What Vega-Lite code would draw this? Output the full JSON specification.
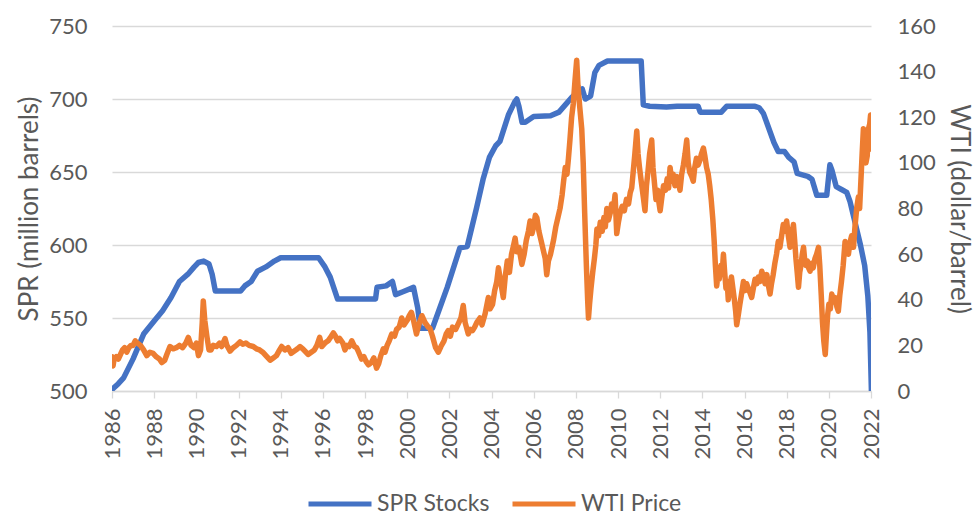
{
  "$schema": "https://vega.github.io/schema/vega-lite/v6.json",
  "width": 759,
  "height": 365,
  "autosize": {"type": "none"},
  "padding": {"left": 112, "top": 26, "right": 105, "bottom": 124},
  "background": "white",
  "config": {
    "view": {"stroke": null},
    "font": "Lato",
    "axis": {"labelFont": "Lato", "titleFont": "Lato", "labelFontSize": 22, "titleFontSize": 26, "labelColor": "#595959", "titleColor": "#595959", "titleFontWeight": "normal"},
    "legend": {"labelFont": "Lato", "labelFontSize": 23, "labelColor": "#595959"}
  },
  "datasets": {
    "spr": [
      {"year": 1986.0, "value": 501}, {"year": 1986.3, "value": 505}, {"year": 1986.55, "value": 509},
      {"year": 1987.0, "value": 522}, {"year": 1987.5, "value": 539}, {"year": 1988.0, "value": 548},
      {"year": 1988.4, "value": 555}, {"year": 1988.8, "value": 564}, {"year": 1989.2, "value": 575},
      {"year": 1989.6, "value": 580}, {"year": 1989.9, "value": 585}, {"year": 1990.1, "value": 588},
      {"year": 1990.35, "value": 589}, {"year": 1990.6, "value": 587}, {"year": 1990.75, "value": 580},
      {"year": 1990.9, "value": 568.5}, {"year": 1991.5, "value": 568.5}, {"year": 1992.1, "value": 568.5},
      {"year": 1992.3, "value": 572}, {"year": 1992.6, "value": 575}, {"year": 1992.9, "value": 582},
      {"year": 1993.3, "value": 585}, {"year": 1993.7, "value": 589}, {"year": 1994.0, "value": 591.3},
      {"year": 1995.8, "value": 591.3}, {"year": 1996.1, "value": 585}, {"year": 1996.35, "value": 578},
      {"year": 1996.7, "value": 563}, {"year": 1998.5, "value": 563}, {"year": 1998.57, "value": 571},
      {"year": 1999.0, "value": 572}, {"year": 1999.3, "value": 575}, {"year": 1999.45, "value": 566},
      {"year": 1999.8, "value": 568}, {"year": 2000.3, "value": 571}, {"year": 2000.5, "value": 557},
      {"year": 2000.62, "value": 543}, {"year": 2001.2, "value": 543}, {"year": 2001.5, "value": 555},
      {"year": 2001.9, "value": 571}, {"year": 2002.5, "value": 598}, {"year": 2002.85, "value": 599},
      {"year": 2003.3, "value": 626}, {"year": 2003.6, "value": 645}, {"year": 2003.9, "value": 660},
      {"year": 2004.2, "value": 668}, {"year": 2004.4, "value": 671}, {"year": 2004.8, "value": 689},
      {"year": 2005.1, "value": 698}, {"year": 2005.2, "value": 700}, {"year": 2005.3, "value": 695},
      {"year": 2005.45, "value": 684}, {"year": 2005.6, "value": 684}, {"year": 2006.0, "value": 688},
      {"year": 2006.8, "value": 688.5}, {"year": 2007.2, "value": 691}, {"year": 2007.5, "value": 696},
      {"year": 2007.8, "value": 701}, {"year": 2008.1, "value": 705}, {"year": 2008.3, "value": 707},
      {"year": 2008.45, "value": 700}, {"year": 2008.7, "value": 702}, {"year": 2008.9, "value": 718},
      {"year": 2009.1, "value": 723}, {"year": 2009.5, "value": 726}, {"year": 2011.1, "value": 726},
      {"year": 2011.2, "value": 696}, {"year": 2011.5, "value": 695}, {"year": 2012.3, "value": 694.5},
      {"year": 2012.8, "value": 695}, {"year": 2013.8, "value": 695}, {"year": 2013.9, "value": 691},
      {"year": 2014.9, "value": 691}, {"year": 2015.15, "value": 695}, {"year": 2016.5, "value": 695},
      {"year": 2016.7, "value": 694}, {"year": 2016.9, "value": 690}, {"year": 2017.1, "value": 682},
      {"year": 2017.4, "value": 670}, {"year": 2017.6, "value": 664}, {"year": 2017.9, "value": 664},
      {"year": 2018.1, "value": 660}, {"year": 2018.35, "value": 657}, {"year": 2018.5, "value": 649},
      {"year": 2019.0, "value": 647}, {"year": 2019.2, "value": 645}, {"year": 2019.43, "value": 634},
      {"year": 2019.9, "value": 634}, {"year": 2020.05, "value": 655}, {"year": 2020.15, "value": 651},
      {"year": 2020.35, "value": 640}, {"year": 2020.6, "value": 638}, {"year": 2020.85, "value": 636},
      {"year": 2021.0, "value": 630}, {"year": 2021.2, "value": 618}, {"year": 2021.5, "value": 600},
      {"year": 2021.7, "value": 586}, {"year": 2021.85, "value": 565}, {"year": 2021.95, "value": 540},
      {"year": 2022.02, "value": 500}
    ],
    "wti": [
      {"year": 1986.0, "value": 15}, {"year": 1986.05, "value": 11}, {"year": 1986.1, "value": 14},
      {"year": 1986.2, "value": 15}, {"year": 1986.3, "value": 14}, {"year": 1986.4, "value": 16},
      {"year": 1986.5, "value": 18}, {"year": 1986.6, "value": 19}, {"year": 1986.7, "value": 17},
      {"year": 1986.8, "value": 19}, {"year": 1986.9, "value": 20}, {"year": 1987.0, "value": 20},
      {"year": 1987.1, "value": 22}, {"year": 1987.2, "value": 21}, {"year": 1987.35, "value": 20},
      {"year": 1987.5, "value": 18}, {"year": 1987.65, "value": 15.5}, {"year": 1987.8, "value": 17},
      {"year": 1987.95, "value": 16.5}, {"year": 1988.1, "value": 15}, {"year": 1988.25, "value": 14},
      {"year": 1988.36, "value": 12.5}, {"year": 1988.5, "value": 13.5}, {"year": 1988.6, "value": 16},
      {"year": 1988.75, "value": 19.5}, {"year": 1988.9, "value": 18.5}, {"year": 1989.05, "value": 19},
      {"year": 1989.2, "value": 20}, {"year": 1989.35, "value": 19}, {"year": 1989.5, "value": 21},
      {"year": 1989.62, "value": 23.5}, {"year": 1989.75, "value": 20}, {"year": 1989.9, "value": 19},
      {"year": 1990.0, "value": 21}, {"year": 1990.1, "value": 15.5}, {"year": 1990.2, "value": 18},
      {"year": 1990.28, "value": 30}, {"year": 1990.33, "value": 39.5}, {"year": 1990.4, "value": 31},
      {"year": 1990.5, "value": 24}, {"year": 1990.6, "value": 18}, {"year": 1990.7, "value": 18},
      {"year": 1990.8, "value": 20}, {"year": 1990.95, "value": 19.5}, {"year": 1991.1, "value": 21},
      {"year": 1991.2, "value": 19.5}, {"year": 1991.36, "value": 23}, {"year": 1991.45, "value": 20},
      {"year": 1991.6, "value": 17.5}, {"year": 1991.75, "value": 19}, {"year": 1991.9, "value": 20},
      {"year": 1992.07, "value": 21.5}, {"year": 1992.2, "value": 20.5}, {"year": 1992.35, "value": 21},
      {"year": 1992.5, "value": 20}, {"year": 1992.7, "value": 19.5}, {"year": 1992.85, "value": 18.5},
      {"year": 1993.0, "value": 18}, {"year": 1993.15, "value": 17}, {"year": 1993.3, "value": 15.5},
      {"year": 1993.5, "value": 13.5}, {"year": 1993.65, "value": 14.5}, {"year": 1993.8, "value": 15.5},
      {"year": 1993.95, "value": 18}, {"year": 1994.05, "value": 19.5}, {"year": 1994.2, "value": 18},
      {"year": 1994.35, "value": 19}, {"year": 1994.5, "value": 16.5}, {"year": 1994.65, "value": 17.5},
      {"year": 1994.8, "value": 18.5}, {"year": 1994.92, "value": 19.5}, {"year": 1995.05, "value": 18.5},
      {"year": 1995.2, "value": 17}, {"year": 1995.3, "value": 16}, {"year": 1995.45, "value": 17},
      {"year": 1995.6, "value": 18}, {"year": 1995.72, "value": 20}, {"year": 1995.85, "value": 23.5},
      {"year": 1995.95, "value": 19.5}, {"year": 1996.1, "value": 21}, {"year": 1996.25, "value": 22},
      {"year": 1996.4, "value": 24}, {"year": 1996.5, "value": 25.5}, {"year": 1996.6, "value": 24},
      {"year": 1996.7, "value": 22}, {"year": 1996.8, "value": 23}, {"year": 1996.95, "value": 21},
      {"year": 1997.05, "value": 18}, {"year": 1997.15, "value": 20}, {"year": 1997.25, "value": 19.5},
      {"year": 1997.37, "value": 22}, {"year": 1997.5, "value": 19.5}, {"year": 1997.6, "value": 19},
      {"year": 1997.7, "value": 17}, {"year": 1997.84, "value": 14}, {"year": 1997.95, "value": 15},
      {"year": 1998.05, "value": 13}, {"year": 1998.16, "value": 11.5}, {"year": 1998.3, "value": 12.5},
      {"year": 1998.42, "value": 14.5}, {"year": 1998.55, "value": 10}, {"year": 1998.65, "value": 12},
      {"year": 1998.75, "value": 15.5}, {"year": 1998.87, "value": 18.5}, {"year": 1998.95, "value": 17},
      {"year": 1999.05, "value": 20}, {"year": 1999.15, "value": 22}, {"year": 1999.27, "value": 25},
      {"year": 1999.4, "value": 24}, {"year": 1999.5, "value": 27}, {"year": 1999.62, "value": 28},
      {"year": 1999.74, "value": 32}, {"year": 1999.85, "value": 29}, {"year": 2000.0, "value": 31},
      {"year": 2000.1, "value": 33}, {"year": 2000.2, "value": 34.5}, {"year": 2000.3, "value": 31},
      {"year": 2000.44, "value": 25}, {"year": 2000.55, "value": 29}, {"year": 2000.7, "value": 33},
      {"year": 2000.85, "value": 30}, {"year": 2001.0, "value": 28}, {"year": 2001.08, "value": 27.5},
      {"year": 2001.2, "value": 24}, {"year": 2001.35, "value": 19}, {"year": 2001.48, "value": 17},
      {"year": 2001.6, "value": 19.5}, {"year": 2001.75, "value": 22}, {"year": 2001.85, "value": 25},
      {"year": 2001.95, "value": 26.5}, {"year": 2002.05, "value": 24}, {"year": 2002.15, "value": 28},
      {"year": 2002.3, "value": 27}, {"year": 2002.45, "value": 30}, {"year": 2002.55, "value": 32},
      {"year": 2002.66, "value": 37.5}, {"year": 2002.75, "value": 30}, {"year": 2002.9, "value": 25},
      {"year": 2003.0, "value": 27}, {"year": 2003.1, "value": 26.5}, {"year": 2003.2, "value": 28},
      {"year": 2003.3, "value": 30}, {"year": 2003.45, "value": 32}, {"year": 2003.55, "value": 29},
      {"year": 2003.7, "value": 34}, {"year": 2003.85, "value": 41}, {"year": 2003.93, "value": 36},
      {"year": 2004.05, "value": 38}, {"year": 2004.15, "value": 44}, {"year": 2004.25, "value": 48},
      {"year": 2004.33, "value": 54}, {"year": 2004.45, "value": 47}, {"year": 2004.56, "value": 41},
      {"year": 2004.65, "value": 50}, {"year": 2004.75, "value": 57}, {"year": 2004.85, "value": 52},
      {"year": 2004.95, "value": 60}, {"year": 2005.05, "value": 64}, {"year": 2005.12, "value": 67},
      {"year": 2005.2, "value": 61}, {"year": 2005.3, "value": 63}, {"year": 2005.44, "value": 55.5},
      {"year": 2005.55, "value": 60}, {"year": 2005.65, "value": 66}, {"year": 2005.75, "value": 70},
      {"year": 2005.83, "value": 74.5}, {"year": 2005.92, "value": 69}, {"year": 2006.0, "value": 72},
      {"year": 2006.08, "value": 77}, {"year": 2006.15, "value": 76}, {"year": 2006.25, "value": 70},
      {"year": 2006.35, "value": 66}, {"year": 2006.45, "value": 62}, {"year": 2006.55, "value": 58},
      {"year": 2006.62, "value": 51}, {"year": 2006.7, "value": 57}, {"year": 2006.8, "value": 60},
      {"year": 2006.94, "value": 66}, {"year": 2007.05, "value": 72}, {"year": 2007.15, "value": 76},
      {"year": 2007.25, "value": 80}, {"year": 2007.35, "value": 86}, {"year": 2007.42, "value": 92},
      {"year": 2007.5, "value": 98}, {"year": 2007.58, "value": 95}, {"year": 2007.65, "value": 102},
      {"year": 2007.72, "value": 110}, {"year": 2007.8, "value": 120}, {"year": 2007.88, "value": 126},
      {"year": 2007.96, "value": 136}, {"year": 2008.04, "value": 145}, {"year": 2008.1, "value": 134},
      {"year": 2008.18, "value": 125}, {"year": 2008.28, "value": 115}, {"year": 2008.35, "value": 100},
      {"year": 2008.42, "value": 78}, {"year": 2008.5, "value": 55}, {"year": 2008.56, "value": 40},
      {"year": 2008.6, "value": 32}, {"year": 2008.65, "value": 38}, {"year": 2008.72, "value": 45},
      {"year": 2008.8, "value": 52}, {"year": 2008.88, "value": 58}, {"year": 2008.95, "value": 64},
      {"year": 2009.0, "value": 71}, {"year": 2009.08, "value": 68}, {"year": 2009.16, "value": 74},
      {"year": 2009.25, "value": 70}, {"year": 2009.33, "value": 76}, {"year": 2009.4, "value": 72},
      {"year": 2009.47, "value": 80}, {"year": 2009.55, "value": 75}, {"year": 2009.63, "value": 78},
      {"year": 2009.7, "value": 82}, {"year": 2009.78, "value": 79}, {"year": 2009.86, "value": 86},
      {"year": 2009.94, "value": 69}, {"year": 2010.02, "value": 74}, {"year": 2010.1, "value": 78},
      {"year": 2010.2, "value": 81}, {"year": 2010.3, "value": 79}, {"year": 2010.4, "value": 84},
      {"year": 2010.5, "value": 82}, {"year": 2010.58, "value": 87}, {"year": 2010.65, "value": 89},
      {"year": 2010.72, "value": 96}, {"year": 2010.8, "value": 104}, {"year": 2010.89, "value": 114},
      {"year": 2010.95, "value": 104}, {"year": 2011.02, "value": 98}, {"year": 2011.1, "value": 92},
      {"year": 2011.2, "value": 85}, {"year": 2011.28, "value": 79}, {"year": 2011.35, "value": 90},
      {"year": 2011.42, "value": 96}, {"year": 2011.5, "value": 104}, {"year": 2011.6, "value": 110},
      {"year": 2011.66, "value": 98}, {"year": 2011.72, "value": 92}, {"year": 2011.8, "value": 84},
      {"year": 2011.88, "value": 88}, {"year": 2011.95, "value": 82}, {"year": 2012.0, "value": 79},
      {"year": 2012.08, "value": 85}, {"year": 2012.16, "value": 90}, {"year": 2012.25, "value": 88},
      {"year": 2012.33, "value": 93}, {"year": 2012.4, "value": 89}, {"year": 2012.47, "value": 98},
      {"year": 2012.55, "value": 92}, {"year": 2012.62, "value": 95}, {"year": 2012.7, "value": 90},
      {"year": 2012.8, "value": 94}, {"year": 2012.87, "value": 91}, {"year": 2012.94, "value": 88},
      {"year": 2013.02, "value": 95}, {"year": 2013.1, "value": 99}, {"year": 2013.18, "value": 104},
      {"year": 2013.26, "value": 110}, {"year": 2013.33, "value": 100}, {"year": 2013.4, "value": 96},
      {"year": 2013.5, "value": 94}, {"year": 2013.57, "value": 92}, {"year": 2013.64, "value": 98},
      {"year": 2013.72, "value": 102}, {"year": 2013.8, "value": 99}, {"year": 2013.88, "value": 101},
      {"year": 2013.96, "value": 104}, {"year": 2014.05, "value": 106.5}, {"year": 2014.12, "value": 103},
      {"year": 2014.2, "value": 98}, {"year": 2014.28, "value": 95}, {"year": 2014.35, "value": 90},
      {"year": 2014.42, "value": 84}, {"year": 2014.5, "value": 75}, {"year": 2014.56, "value": 66},
      {"year": 2014.62, "value": 55}, {"year": 2014.68, "value": 46}, {"year": 2014.74, "value": 51},
      {"year": 2014.8, "value": 49}, {"year": 2014.88, "value": 55}, {"year": 2014.95, "value": 53},
      {"year": 2015.0, "value": 60}, {"year": 2015.06, "value": 52}, {"year": 2015.12, "value": 45},
      {"year": 2015.18, "value": 48}, {"year": 2015.23, "value": 40}, {"year": 2015.3, "value": 46},
      {"year": 2015.38, "value": 50}, {"year": 2015.45, "value": 45}, {"year": 2015.52, "value": 40},
      {"year": 2015.58, "value": 35}, {"year": 2015.63, "value": 29}, {"year": 2015.7, "value": 33},
      {"year": 2015.78, "value": 38}, {"year": 2015.85, "value": 42}, {"year": 2015.9, "value": 45},
      {"year": 2015.95, "value": 48}, {"year": 2016.02, "value": 44}, {"year": 2016.1, "value": 47},
      {"year": 2016.18, "value": 45}, {"year": 2016.26, "value": 43}, {"year": 2016.34, "value": 41},
      {"year": 2016.42, "value": 45}, {"year": 2016.5, "value": 49}, {"year": 2016.58, "value": 47},
      {"year": 2016.66, "value": 50}, {"year": 2016.74, "value": 48}, {"year": 2016.82, "value": 52.5},
      {"year": 2016.9, "value": 50}, {"year": 2016.98, "value": 47}, {"year": 2017.06, "value": 51},
      {"year": 2017.14, "value": 46}, {"year": 2017.21, "value": 42.5}, {"year": 2017.28, "value": 47},
      {"year": 2017.36, "value": 51}, {"year": 2017.44, "value": 56}, {"year": 2017.52, "value": 60},
      {"year": 2017.6, "value": 65.5}, {"year": 2017.68, "value": 63}, {"year": 2017.76, "value": 68},
      {"year": 2017.84, "value": 73}, {"year": 2017.92, "value": 70}, {"year": 2018.0, "value": 74.5},
      {"year": 2018.08, "value": 68}, {"year": 2018.16, "value": 63}, {"year": 2018.24, "value": 68},
      {"year": 2018.32, "value": 73}, {"year": 2018.38, "value": 66}, {"year": 2018.44, "value": 58},
      {"year": 2018.5, "value": 52}, {"year": 2018.56, "value": 45.5}, {"year": 2018.62, "value": 52},
      {"year": 2018.68, "value": 55}, {"year": 2018.74, "value": 60}, {"year": 2018.8, "value": 63},
      {"year": 2018.86, "value": 57}, {"year": 2018.92, "value": 55}, {"year": 2018.98, "value": 57},
      {"year": 2019.04, "value": 54}, {"year": 2019.11, "value": 52.5}, {"year": 2019.18, "value": 56},
      {"year": 2019.26, "value": 54}, {"year": 2019.34, "value": 58}, {"year": 2019.42, "value": 60},
      {"year": 2019.51, "value": 63}, {"year": 2019.57, "value": 55}, {"year": 2019.64, "value": 42},
      {"year": 2019.7, "value": 30}, {"year": 2019.76, "value": 22}, {"year": 2019.83, "value": 16},
      {"year": 2019.88, "value": 24}, {"year": 2019.94, "value": 33}, {"year": 2020.0, "value": 38},
      {"year": 2020.07, "value": 36}, {"year": 2020.14, "value": 42.5}, {"year": 2020.22, "value": 39},
      {"year": 2020.3, "value": 41}, {"year": 2020.38, "value": 37}, {"year": 2020.45, "value": 35},
      {"year": 2020.52, "value": 42}, {"year": 2020.6, "value": 48}, {"year": 2020.68, "value": 55},
      {"year": 2020.77, "value": 65.5}, {"year": 2020.85, "value": 62}, {"year": 2020.93, "value": 60},
      {"year": 2021.0, "value": 65}, {"year": 2021.08, "value": 68}, {"year": 2021.17, "value": 63},
      {"year": 2021.24, "value": 72}, {"year": 2021.32, "value": 80}, {"year": 2021.4, "value": 85},
      {"year": 2021.46, "value": 80}, {"year": 2021.52, "value": 92}, {"year": 2021.58, "value": 104},
      {"year": 2021.64, "value": 115}, {"year": 2021.7, "value": 110}, {"year": 2021.76, "value": 100},
      {"year": 2021.82, "value": 103}, {"year": 2021.88, "value": 115}, {"year": 2021.94, "value": 117},
      {"year": 2021.98, "value": 121}, {"year": 2022.02, "value": 112}, {"year": 2022.04, "value": 106}
    ]
  },
  "layer": [
    {
      "data": {"name": "spr"},
      "mark": {"type": "line", "strokeWidth": 5.5, "strokeCap": "round", "strokeJoin": "round", "clip": true},
      "encoding": {
        "x": {
          "field": "year", "type": "quantitative",
          "scale": {"domain": [1986, 2022], "nice": false, "zero": false},
          "axis": {
            "title": null, "values": [1986, 1988, 1990, 1992, 1994, 1996, 1998, 2000, 2002, 2004, 2006, 2008, 2010, 2012, 2014, 2016, 2018, 2020, 2022],
            "format": "d", "labelAngle": -90, "grid": false,
            "domainColor": "#D9D9D9", "domainWidth": 1.3, "tickColor": "#D9D9D9", "tickWidth": 1.3, "tickSize": 7,
            "labelPadding": 10, "labelFlush": false, "labelOverlap": false
          }
        },
        "y": {
          "field": "value", "type": "quantitative",
          "scale": {"domain": [500, 750], "nice": false, "zero": false},
          "axis": {
            "title": "SPR (million barrels)", "values": [500, 550, 600, 650, 700, 750],
            "grid": true, "gridColor": "#D9D9D9", "gridWidth": 1.3,
            "domain": false, "ticks": false, "tickSize": 0, "labelPadding": 25, "titlePadding": 6
          }
        },
        "color": {
          "datum": "SPR Stocks", "type": "nominal",
          "scale": {"domain": ["SPR Stocks", "WTI Price"], "range": ["#4472C4", "#ED7D31"]},
          "legend": {
            "title": null, "orient": "none", "direction": "horizontal", "legendX": 215, "legendY": 465,
            "symbolType": "M-3,0H3", "symbolSize": 441, "symbolStrokeWidth": 5,
            "labelOffset": 24, "columnPadding": 12, "padding": 0
          }
        }
      }
    },
    {
      "data": {"name": "wti"},
      "mark": {"type": "line", "strokeWidth": 5.5, "strokeCap": "round", "strokeJoin": "round", "clip": true},
      "encoding": {
        "x": {"field": "year", "type": "quantitative", "scale": {"domain": [1986, 2022], "nice": false, "zero": false}},
        "y": {
          "field": "value", "type": "quantitative",
          "scale": {"domain": [0, 160], "nice": false, "zero": true},
          "axis": {
            "orient": "right", "title": "WTI (dollar/barrel)", "values": [0, 20, 40, 60, 80, 100, 120, 140, 160],
            "grid": false, "domain": false, "ticks": false, "tickSize": 0, "labelPadding": 26, "titlePadding": 10
          }
        },
        "color": {"datum": "WTI Price", "type": "nominal"}
      }
    }
  ],
  "resolve": {"scale": {"y": "independent"}}
}
